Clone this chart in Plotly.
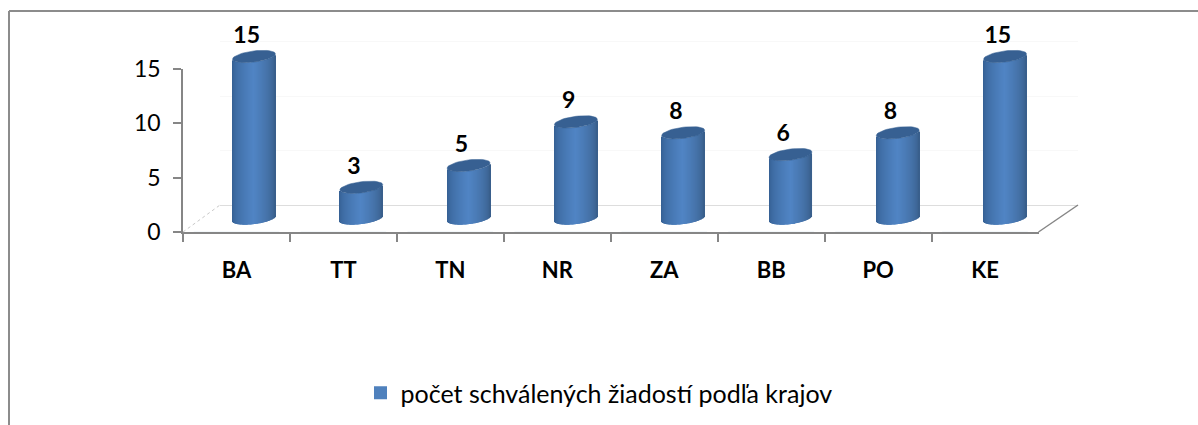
import numpy as np
import plotly.graph_objects as go

categories = ["BA", "TT", "TN", "NR", "ZA", "BB", "PO", "KE"]
values = [15, 3, 5, 9, 8, 6, 8, 15]
y_ticks = [0, 5, 10, 15]
series_name = "počet schválených žiadostí podľa krajov"

W, H = 1198, 425
FONT = "Lato, Carlito, Calibri, sans-serif"
BLUE = "#4F81BD"
GREY = "#868686"


def fx(p):
    return p / W


def fy(p):
    return 1 - p / H


def shade(t):
    """Cylinder shading across the bar, t in [0, 1]."""
    dark_l, light, dark_r = (50, 92, 142), (80, 132, 196), (54, 90, 132)
    if t < 0.5:
        a, b, u = dark_l, light, t / 0.5
    else:
        a, b, u = dark_r, light, (1 - t) / 0.5
    u = u ** 0.55
    return "rgb(%d,%d,%d)" % tuple(round(a[i] + (b[i] - a[i]) * u) for i in range(3))


# bar-axis scale (pixels per unit), chosen to mimic the 3D projection
PX_X, PX_Y = 107.3, 10.9
BAR_X0, BAR_Y0 = 254, 220
HALF_W = 0.2
ELL_H = 5.6 / PX_Y
TILT = 2.6 / PX_Y
LIFT = 1.5 / PX_Y
N_SLICES = 43
xpos = np.arange(len(categories), dtype=float)
vals = np.array(values, dtype=float)

fig = go.Figure()

# back wall (subplot drawn first, carries the gridlines)
fig.add_trace(go.Scatter(x=[0], y=[0], mode="none", xaxis="x", yaxis="y",
                         showlegend=False, hoverinfo="skip"))
# front axes
fig.add_trace(go.Bar(x=categories, y=[0] * len(values), xaxis="x2", yaxis="y2",
                     showlegend=False, hoverinfo="skip", marker_color="rgba(0,0,0,0)"))

# cylinder bodies as thin bar slices
for k in range(N_SLICES):
    t0 = k / N_SLICES
    tm = (k + 0.5) / N_SLICES
    dx = (2 * tm - 1)
    lower = -ELL_H * np.sqrt(1 - dx ** 2) + TILT * dx
    base = np.full(len(values), lower + LIFT)
    fig.add_trace(go.Bar(
        x=xpos, y=vals - LIFT, base=base, xaxis="x3", yaxis="y3",
        width=2 * HALF_W / N_SLICES * 1.08,
        offset=-HALF_W + 2 * HALF_W * t0,
        marker=dict(color=shade(tm), line=dict(width=0)),
        showlegend=False, hoverinfo="skip",
    ))

# top ellipses
theta = np.linspace(0, 2 * np.pi, 49)
ex, ey = [], []
for xc, v in zip(xpos, vals):
    ex += list(xc + HALF_W * np.cos(theta)) + [None]
    ey += list(v + ELL_H * np.sin(theta) + TILT * np.cos(theta)) + [None]
fig.add_trace(go.Scatter(x=ex, y=ey, mode="lines", fill="toself", fillcolor="#376092",
                         line=dict(color="#376092", width=0.5), xaxis="x3", yaxis="y3",
                         showlegend=False, hoverinfo="skip"))

# data labels
fig.add_trace(go.Scatter(x=xpos - 0.068, y=vals + 0.72, text=[str(v) for v in values],
                         mode="text", textposition="top center",
                         textfont=dict(family=FONT, size=23, color="black", weight="bold"),
                         xaxis="x3", yaxis="y3", showlegend=False, hoverinfo="skip"))

# legend entry
fig.add_trace(go.Scatter(x=[None], y=[None], name=series_name, mode="markers",
                         marker=dict(color=BLUE, symbol="square", size=13),
                         xaxis="x2", yaxis="y2", hoverinfo="skip"))

y_top = 18
wall_l, wall_r, wall_b = 220, 1078, 205
front_l, front_r, front_b = 183, 1038.5, 232
front_t = 69
bars_r = 1100

fig.update_layout(
    width=W, height=H, margin=dict(l=0, r=0, t=0, b=0, pad=0, autoexpand=False),
    paper_bgcolor="white", plot_bgcolor="rgba(0,0,0,0)",
    barmode="overlay", font=dict(family=FONT, color="black"),
    xaxis=dict(domain=[fx(wall_l), fx(wall_r)], range=[0, 1], visible=False, anchor="y"),
    yaxis=dict(domain=[fy(wall_b), fy(y_top)], range=[0, (wall_b - y_top) / 10.87],
               anchor="x", tickvals=y_ticks, showticklabels=False, ticks="",
               showgrid=True, gridcolor="#F8F8F8", gridwidth=1,
               zeroline=True, zerolinecolor="#DDDDDD", zerolinewidth=1, showline=False),
    xaxis2=dict(domain=[fx(front_l), fx(front_r)], anchor="y2", type="category",
                range=[-0.5, 7.5], tickson="boundaries", ticks="outside", ticklen=8,
                tickcolor=GREY, tickwidth=1.5, showline=True, linecolor=GREY, linewidth=1.5,
                showgrid=False, zeroline=False, ticklabelstandoff=18,
                tickfont=dict(family=FONT, size=22, color="black", weight="bold")),
    yaxis2=dict(domain=[fy(front_b), fy(front_t)], anchor="x2",
                range=[0, 15], tickvals=y_ticks, ticks="outside",
                ticklen=8, tickcolor=GREY, tickwidth=1.5, showline=True, linecolor=GREY,
                linewidth=1.5, showgrid=False, zeroline=False, ticklabelstandoff=8,
                tickfont=dict(family=FONT, size=23, color="black")),
    xaxis3=dict(domain=[fx(front_l), fx(bars_r)], anchor="y3", visible=False,
                range=[(front_l - BAR_X0) / PX_X, (bars_r - BAR_X0) / PX_X]),
    yaxis3=dict(domain=[fy(front_b + 10), fy(0)], anchor="x3", visible=False,
                range=[-(front_b + 10 - BAR_Y0) / PX_Y, BAR_Y0 / PX_Y]),
    legend=dict(x=fx(599), xanchor="center", y=fy(393), yanchor="middle",
                orientation="h", font=dict(family=FONT, size=25, color="black"),
                bgcolor="rgba(0,0,0,0)", itemsizing="trace", itemwidth=30),
    showlegend=True,
    shapes=[
        dict(type="line", xref="paper", yref="paper", x0=fx(9), x1=1, y0=fy(11), y1=fy(11),
             line=dict(color="#8C8C8C", width=2)),
        dict(type="line", xref="paper", yref="paper", x0=fx(9), x1=fx(9), y0=fy(11), y1=0,
             line=dict(color="#8C8C8C", width=2)),
        dict(type="line", xref="paper", yref="paper", x0=fx(front_r), x1=fx(wall_r),
             y0=fy(front_b), y1=fy(wall_b), line=dict(color=GREY, width=1.5)),
        dict(type="line", xref="paper", yref="paper", x0=fx(front_l), x1=fx(wall_l),
             y0=fy(front_b), y1=fy(wall_b), line=dict(color="#C8C8C8", width=1, dash="dot")),
    ],
)

fig.write_html("out.html", config=dict(displayModeBar=False),
               post_script="document.body.style.margin='0';")
